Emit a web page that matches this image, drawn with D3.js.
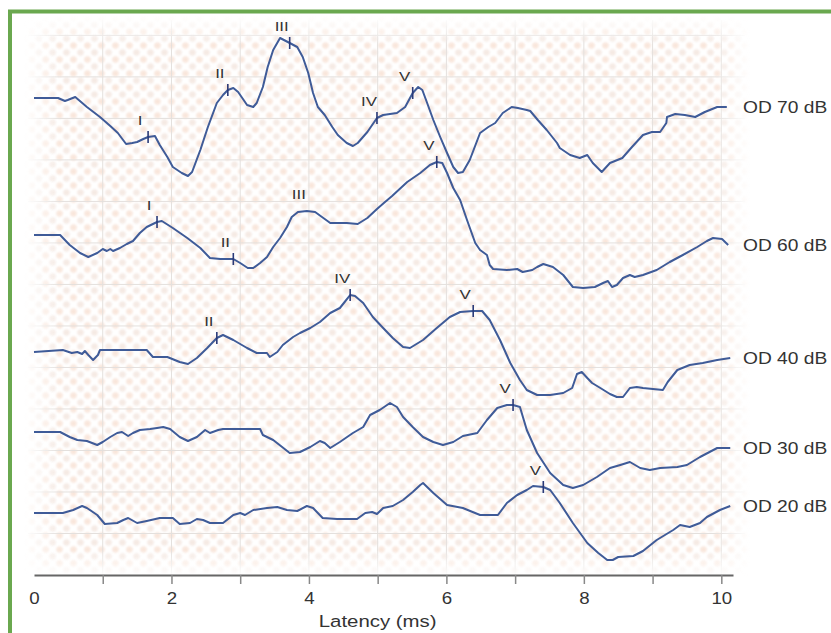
<!DOCTYPE html>
<html>
<head>
<meta charset="utf-8">
<script src="https://cdn.jsdelivr.net/npm/d3@7"></script>
<style>
body { margin: 0; background: #fff; }
svg { display: block; font-family: "Liberation Sans", Arial, sans-serif; }
</style>
</head>
<body>
<svg id="chart" width="831" height="633"></svg>
<script>
// ABR waveforms, right ear (OD). latency in ms, amplitude in µV relative to trace start
var levels = ["OD 70 dB", "OD 60 dB", "OD 40 dB", "OD 30 dB", "OD 20 dB"];
var baselines = [4.77, 3.40, 2.23, 1.43, 0.62];

var od70 = [[0,0],[0.35,0],[0.45,-0.03],[0.49,-0.02],[0.60,0.01],[0.77,-0.09],[0.96,-0.19],[1.11,-0.28],[1.22,-0.35],
  [1.34,-0.46],[1.43,-0.45],[1.50,-0.44],[1.59,-0.41],[1.66,-0.39],[1.76,-0.38],[1.83,-0.47],[1.94,-0.59],[2.02,-0.69],
  [2.15,-0.75],[2.24,-0.78],[2.30,-0.74],[2.42,-0.52],[2.53,-0.29],[2.66,-0.05],[2.75,0.03],[2.82,0.08],[2.90,0.10],
  [2.97,0.06],[3.10,-0.07],[3.19,-0.09],[3.24,-0.05],[3.33,0.11],[3.40,0.31],[3.48,0.48],[3.58,0.60],[3.72,0.55],
  [3.83,0.51],[3.91,0.41],[3.99,0.25],[4.06,0.05],[4.13,-0.09],[4.23,-0.17],[4.34,-0.29],[4.42,-0.37],[4.55,-0.45],
  [4.64,-0.48],[4.71,-0.45],[4.85,-0.34],[4.99,-0.20],[5.08,-0.17],[5.28,-0.15],[5.40,-0.09],[5.51,0.05],[5.59,0.11],
  [5.65,0.08],[5.72,-0.05],[5.81,-0.22],[5.91,-0.39],[6.01,-0.55],[6.10,-0.69],[6.17,-0.75],[6.24,-0.74],[6.34,-0.62],
  [6.49,-0.35],[6.61,-0.29],[6.71,-0.25],[6.82,-0.15],[6.95,-0.09],[7.04,-0.10],[7.17,-0.12],[7.22,-0.13],[7.33,-0.22],
  [7.46,-0.32],[7.61,-0.45],[7.65,-0.50],[7.80,-0.57],[7.94,-0.60],[8.05,-0.57],[8.13,-0.65],[8.26,-0.74],[8.38,-0.65],
  [8.56,-0.60],[8.70,-0.49],[8.86,-0.37],[8.99,-0.34],[9.11,-0.34],[9.20,-0.25],[9.21,-0.19],[9.33,-0.16],[9.47,-0.17],
  [9.62,-0.19],[9.76,-0.14],[9.94,-0.09],[10.08,-0.09]];

var od60 = [[0,0],[0.38,0],[0.52,-0.10],[0.67,-0.18],[0.79,-0.22],[0.92,-0.18],[1.00,-0.14],[1.06,-0.16],[1.11,-0.14],
  [1.15,-0.16],[1.25,-0.13],[1.35,-0.09],[1.44,-0.06],[1.54,0.02],[1.64,0.08],[1.79,0.13],[1.86,0.14],[2.02,0.07],
  [2.23,-0.03],[2.42,-0.13],[2.56,-0.23],[2.71,-0.24],[2.90,-0.24],[3.00,-0.28],[3.11,-0.33],[3.19,-0.33],[3.29,-0.28],
  [3.39,-0.22],[3.48,-0.12],[3.58,-0.03],[3.68,0.08],[3.75,0.18],[3.84,0.23],[3.97,0.24],[4.09,0.23],[4.19,0.18],
  [4.31,0.12],[4.41,0.12],[4.55,0.12],[4.71,0.11],[4.85,0.17],[4.99,0.26],[5.09,0.32],[5.21,0.39],[5.43,0.53],
  [5.62,0.62],[5.76,0.70],[5.86,0.73],[5.94,0.72],[6.01,0.62],[6.10,0.47],[6.20,0.35],[6.30,0.15],[6.42,-0.08],
  [6.49,-0.15],[6.59,-0.20],[6.63,-0.30],[6.68,-0.34],[6.88,-0.35],[7.03,-0.34],[7.11,-0.37],[7.25,-0.35],[7.32,-0.32],
  [7.41,-0.29],[7.55,-0.32],[7.70,-0.40],[7.84,-0.52],[7.99,-0.53],[8.16,-0.52],[8.28,-0.48],[8.35,-0.46],[8.41,-0.52],
  [8.48,-0.50],[8.57,-0.43],[8.67,-0.40],[8.74,-0.42],[8.86,-0.40],[9.06,-0.35],[9.25,-0.27],[9.44,-0.20],[9.65,-0.12],
  [9.79,-0.06],[9.88,-0.03],[10.01,-0.04],[10.10,-0.10]];

var od40 = [[0,0],[0.42,0.02],[0.55,-0.01],[0.63,0],[0.70,-0.02],[0.74,0.01],[0.79,-0.03],[0.86,-0.08],[0.93,-0.03],
  [0.96,0.02],[1.21,0.02],[1.64,0.02],[1.73,-0.05],[1.94,-0.05],[2.12,-0.10],[2.24,-0.12],[2.37,-0.06],[2.52,0.04],
  [2.66,0.14],[2.75,0.17],[2.90,0.12],[3.10,0.04],[3.24,-0.01],[3.39,-0.01],[3.43,-0.05],[3.54,0],[3.62,0.07],
  [3.77,0.15],[3.87,0.19],[4.02,0.24],[4.16,0.30],[4.31,0.39],[4.45,0.44],[4.52,0.50],[4.60,0.57],[4.67,0.56],
  [4.79,0.49],[4.93,0.35],[5.08,0.24],[5.22,0.14],[5.37,0.05],[5.47,0.04],[5.66,0.12],[5.86,0.24],[6.05,0.35],
  [6.20,0.40],[6.39,0.41],[6.52,0.41],[6.63,0.32],[6.78,0.12],[6.93,-0.11],[7.07,-0.28],[7.17,-0.38],[7.32,-0.43],
  [7.51,-0.43],[7.70,-0.41],[7.83,-0.36],[7.90,-0.22],[7.97,-0.20],[8.05,-0.26],[8.12,-0.31],[8.24,-0.36],[8.38,-0.42],
  [8.48,-0.45],[8.57,-0.45],[8.67,-0.36],[8.77,-0.35],[8.86,-0.36],[9.15,-0.38],[9.22,-0.30],[9.36,-0.18],[9.54,-0.13],
  [9.73,-0.11],[9.94,-0.08],[10.13,-0.06]];

var od30 = [[0,0],[0.38,0],[0.52,-0.05],[0.63,-0.08],[0.77,-0.09],[0.92,-0.13],[1.00,-0.10],[1.11,-0.05],[1.21,-0.01],
  [1.28,0],[1.37,-0.04],[1.44,-0.01],[1.54,0.02],[1.69,0.03],[1.79,0.04],[1.88,0.05],[1.98,0.03],[2.12,-0.05],
  [2.24,-0.09],[2.37,-0.05],[2.49,0.02],[2.56,-0.01],[2.68,0.02],[2.75,0.03],[2.90,0.03],[3.29,0.03],[3.33,-0.03],
  [3.48,-0.08],[3.61,-0.15],[3.72,-0.21],[3.87,-0.20],[4.02,-0.15],[4.16,-0.09],[4.23,-0.11],[4.31,-0.16],[4.45,-0.10],
  [4.64,-0.01],[4.79,0.05],[4.89,0.17],[5.03,0.22],[5.18,0.29],[5.28,0.25],[5.37,0.15],[5.51,0.05],[5.66,-0.05],
  [5.81,-0.10],[5.95,-0.13],[6.10,-0.10],[6.24,-0.04],[6.45,-0.01],[6.59,0.12],[6.74,0.24],[6.88,0.27],[6.97,0.27],
  [7.07,0.25],[7.17,0.02],[7.32,-0.21],[7.51,-0.41],[7.70,-0.53],[7.84,-0.56],[7.99,-0.53],[8.19,-0.45],[8.38,-0.36],
  [8.53,-0.33],[8.67,-0.30],[8.82,-0.36],[8.96,-0.38],[9.11,-0.36],[9.36,-0.35],[9.50,-0.33],[9.69,-0.25],[9.94,-0.16],
  [10.13,-0.16]];

var od20 = [[0,0],[0.42,0],[0.57,0.03],[0.70,0.07],[0.77,0.05],[0.92,-0.02],[1.03,-0.11],[1.21,-0.10],[1.30,-0.07],
  [1.37,-0.05],[1.50,-0.10],[1.64,-0.08],[1.83,-0.05],[2.02,-0.05],[2.12,-0.11],[2.27,-0.10],[2.37,-0.06],[2.46,-0.07],
  [2.56,-0.10],[2.75,-0.10],[2.90,-0.02],[3.00,0],[3.07,-0.02],[3.19,0.03],[3.39,0.05],[3.54,0.06],[3.68,0.03],
  [3.83,0.02],[3.97,0.07],[4.06,0.05],[4.20,-0.05],[4.41,-0.06],[4.70,-0.06],[4.82,0],[4.92,0.01],[4.99,-0.01],
  [5.08,0.05],[5.22,0.07],[5.37,0.13],[5.51,0.21],[5.62,0.28],[5.66,0.30],[5.81,0.20],[6.01,0.08],[6.24,0.05],
  [6.49,-0.02],[6.75,-0.02],[6.88,0.10],[7.03,0.18],[7.17,0.23],[7.26,0.27],[7.41,0.26],[7.51,0.23],[7.65,0.10],
  [7.84,-0.10],[8.05,-0.30],[8.21,-0.40],[8.34,-0.47],[8.42,-0.47],[8.50,-0.44],[8.72,-0.43],[8.86,-0.38],[9.06,-0.27],
  [9.30,-0.17],[9.40,-0.12],[9.54,-0.14],[9.69,-0.10],[9.79,-0.04],[9.98,0.03],[10.13,0.07]];

// wave labels: [name, latency ms, marked]
var peaks70 = [["I",1.66,1],["II",2.82,1],["III",3.72,1],["IV",4.99,1],["V",5.51,1]];
var peaks60 = [["I",1.79,1],["II",2.90,1],["III",3.97,0],["V",5.86,1]];
var peaks40 = [["II",2.66,1],["IV",4.60,1],["V",6.39,1]];
var peaks30 = [["V",6.97,1]];
var peaks20 = [["V",7.41,1]];

var xTicks = d3.range(0, 11);
var xTitle = "Latency (ms)";

var traces = [od70, od60, od40, od30, od20];
var peaks = [peaks70, peaks60, peaks40, peaks30, peaks20];

var svg = d3.select("#chart");
var x = d3.scaleLinear().domain([0, 10.17]).range([34, 733]);
var y = d3.scaleLinear().domain([0, 5.5]).range([575, 25]);
var grid = d3.scaleLinear().domain([0, 13.25]).range([575, 25]);

var defs = svg.append("defs");
var pat = defs.append("pattern").attr("id", "dots")
    .attr("patternUnits", "userSpaceOnUse").attr("width", 14).attr("height", 14);
pat.append("circle").attr("cx", 3.5).attr("cy", 3.5).attr("r", 3.3).attr("fill", "#f5d6c4");
pat.append("circle").attr("cx", 10.5).attr("cy", 10.5).attr("r", 3.3).attr("fill", "#efdcd2");
defs.append("filter").attr("id", "soft")
  .append("feGaussianBlur").attr("stdDeviation", 0.9);

function fade(id, x2, y2) {
  var g = defs.append("linearGradient").attr("id", id + "G")
      .attr("x1", 0).attr("y1", 0).attr("x2", x2).attr("y2", y2);
  [[0, 0], [0.05, 1], [0.95, 1], [1, 0]].forEach(s =>
    g.append("stop").attr("offset", s[0]).attr("stop-color", s[1] ? "#fff" : "#000"));
  defs.append("mask").attr("id", id)
    .append("rect").attr("x", 24).attr("y", 16).attr("width", 726).attr("height", 562)
    .attr("fill", "url(#" + id + "G)");
}
fade("fadeX", 1, 0);
fade("fadeY", 0, 1);

var bg = svg.append("g").attr("mask", "url(#fadeY)")
    .append("g").attr("mask", "url(#fadeX)");
bg.append("rect").attr("x", 24).attr("y", 16).attr("width", 726).attr("height", 562)
    .attr("fill", "url(#dots)").attr("opacity", 0.6).attr("filter", "url(#soft)");
bg.selectAll(".vg").data(d3.range(1, 11)).enter().append("line")
    .attr("x1", d => x(d)).attr("x2", d => x(d)).attr("y1", 20).attr("y2", 575)
    .attr("stroke", "#e4e0dd").attr("stroke-width", 1);
bg.selectAll(".hg").data(d3.range(1, 14)).enter().append("line")
    .attr("x1", 28).attr("x2", 745).attr("y1", d => grid(d)).attr("y2", d => grid(d))
    .attr("stroke", "#e4e0dd").attr("stroke-width", 1);

// frame
svg.append("path").attr("d", "M10,633V11.5H831")
    .attr("fill", "none").attr("stroke", "#6aa84f").attr("stroke-width", 4);

// axis
var ax = svg.append("g").attr("transform", "translate(0,575)")
    .call(d3.axisBottom(x).tickValues(xTicks).tickSize(9).tickSizeOuter(0).tickPadding(8)
      .tickFormat(d => d % 2 ? "" : d));
ax.select(".domain").attr("stroke", "#666").attr("stroke-width", 2);
ax.selectAll(".tick line").attr("stroke", "#888").attr("stroke-width", 1.5);
ax.selectAll(".tick line").filter(d => d === 0).remove();
ax.selectAll(".tick text").attr("font-size", 17).attr("fill", "#333")
    .attr("font-family", "Liberation Sans, Arial, sans-serif")
    .attr("transform", "scale(1.1,1)");
svg.append("text").attr("transform", "translate(" + x(5) + ",627) scale(1.2,1)")
    .attr("text-anchor", "middle").attr("font-size", 17).attr("fill", "#333").text(xTitle);

var line = d3.line();
var bis = d3.bisector(d => d[0]).left;
function ampAt(tr, t) {
  var i = bis(tr, t);
  if (i <= 0) return tr[0][1];
  if (i >= tr.length) return tr[tr.length - 1][1];
  var a = tr[i - 1], b = tr[i];
  return a[1] + (b[1] - a[1]) * (t - a[0]) / (b[0] - a[0]);
}

traces.forEach(function (tr, k) {
  var base = baselines[k];
  svg.append("path")
    .attr("d", line(tr.map(d => [x(d[0]), y(base + d[1])])))
    .attr("fill", "none").attr("stroke", "#3f5b98").attr("stroke-width", 2)
    .attr("stroke-linejoin", "round");
  var last = tr[tr.length - 1];
  svg.append("text")
    .attr("transform", "translate(743," + y(base + last[1]) + ") scale(1.2,1)")
    .attr("dy", "0.35em").attr("font-size", 16).attr("fill", "#333").text(levels[k]);
  peaks[k].forEach(function (p) {
    var px = x(p[1]), py = y(base + ampAt(tr, p[1]));
    if (p[2]) svg.append("line").attr("x1", px).attr("x2", px).attr("y1", py - 6).attr("y2", py + 6)
      .attr("stroke", "#2a3a78").attr("stroke-width", 1.6);
    svg.append("text").attr("transform", "translate(" + (px - 8) + "," + (py - 17) + ") scale(1.3,1)")
      .attr("text-anchor", "middle").attr("dy", "0.35em").attr("font-size", 13).attr("fill", "#333")
      .text(p[0]);
  });
});
</script>
</body>
</html>
